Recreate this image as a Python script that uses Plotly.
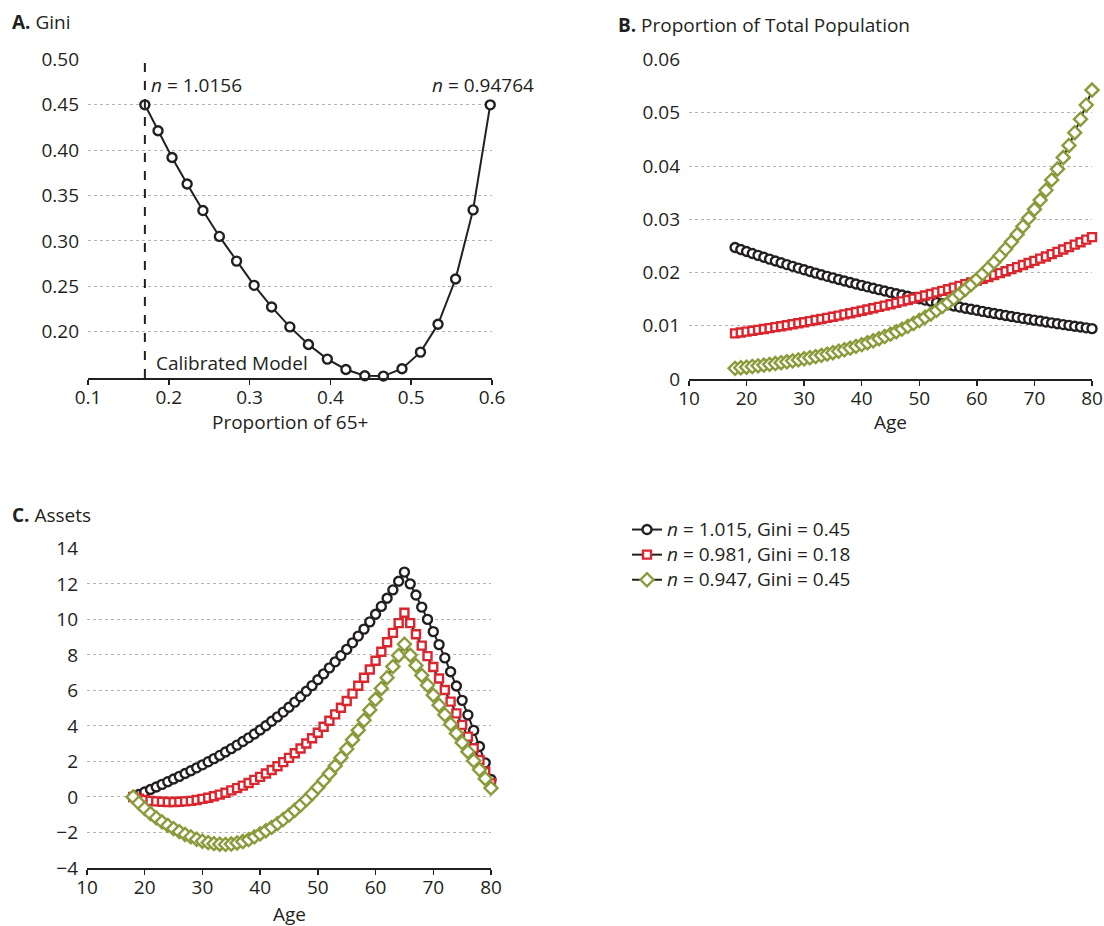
import plotly.graph_objects as go

# ---------------- data ----------------
# Panel A: Gini vs proportion of 65+
PROP65 = [0.1704, 0.1867, 0.2040, 0.2227, 0.2422, 0.2626, 0.2839, 0.3056, 0.3272, 0.3498,
          0.3728, 0.3962, 0.4192, 0.4426, 0.4656, 0.4886, 0.5115, 0.5332, 0.5549, 0.5766, 0.5978]
GINI = [0.450, 0.4214, 0.392, 0.3628, 0.3335, 0.305, 0.2778, 0.2511, 0.2273, 0.2053,
        0.1859, 0.1698, 0.1584, 0.1515, 0.1511, 0.1592, 0.1775, 0.2082, 0.2581, 0.3342, 0.450]
CALIBRATED_X = 0.1704

AGES = list(range(18, 81))

# Panel B: proportion of total population by age
POP_N1015 = [0.02470, 0.02432, 0.02395, 0.02358, 0.02322, 0.02286, 0.02251, 0.02217, 0.02183, 0.02149,
             0.02116, 0.02083, 0.02051, 0.02020, 0.01989, 0.01958, 0.01928, 0.01899, 0.01870, 0.01841,
             0.01813, 0.01785, 0.01758, 0.01731, 0.01704, 0.01678, 0.01652, 0.01627, 0.01602, 0.01577,
             0.01553, 0.01529, 0.01506, 0.01482, 0.01460, 0.01437, 0.01415, 0.01394, 0.01372, 0.01351,
             0.01330, 0.01310, 0.01290, 0.01270, 0.01250, 0.01231, 0.01212, 0.01194, 0.01175, 0.01157,
             0.01139, 0.01122, 0.01105, 0.01088, 0.01071, 0.01055, 0.01038, 0.01022, 0.01007, 0.00991,
             0.00976, 0.00961, 0.00946]
POP_N0981 = [0.00857, 0.00873, 0.00889, 0.00905, 0.00922, 0.00939, 0.00956, 0.00974, 0.00992, 0.01010,
             0.01029, 0.01048, 0.01067, 0.01087, 0.01107, 0.01127, 0.01148, 0.01169, 0.01191, 0.01213,
             0.01236, 0.01258, 0.01282, 0.01305, 0.01329, 0.01354, 0.01379, 0.01404, 0.01430, 0.01457,
             0.01484, 0.01511, 0.01539, 0.01567, 0.01596, 0.01626, 0.01656, 0.01686, 0.01717, 0.01749,
             0.01782, 0.01815, 0.01848, 0.01882, 0.01917, 0.01953, 0.01989, 0.02025, 0.02063, 0.02101,
             0.02140, 0.02179, 0.02219, 0.02260, 0.02302, 0.02345, 0.02388, 0.02432, 0.02477, 0.02523,
             0.02569, 0.02617, 0.02665]
POP_N0947 = [0.00200, 0.00211, 0.00222, 0.00235, 0.00247, 0.00261, 0.00275, 0.00290, 0.00306, 0.00323,
             0.00341, 0.00359, 0.00379, 0.00399, 0.00421, 0.00444, 0.00468, 0.00494, 0.00521, 0.00549,
             0.00580, 0.00612, 0.00645, 0.00680, 0.00717, 0.00757, 0.00798, 0.00842, 0.00888, 0.00936,
             0.00988, 0.01042, 0.01099, 0.01159, 0.01222, 0.01289, 0.01359, 0.01434, 0.01512, 0.01595,
             0.01682, 0.01774, 0.01871, 0.01974, 0.02082, 0.02195, 0.02315, 0.02442, 0.02576, 0.02716,
             0.02865, 0.03022, 0.03187, 0.03361, 0.03545, 0.03739, 0.03943, 0.04159, 0.04386, 0.04626,
             0.04879, 0.05146, 0.05427]

# Panel C: assets by age
ASSETS_N1015 = [0.00, 0.14, 0.28, 0.42, 0.56, 0.71, 0.86, 1.01, 1.16, 1.32,
                1.48, 1.64, 1.81, 1.98, 2.16, 2.34, 2.53, 2.72, 2.92, 3.12,
                3.33, 3.55, 3.77, 4.01, 4.26, 4.51, 4.78, 5.05, 5.34, 5.64,
                5.95, 6.27, 6.60, 6.93, 7.27, 7.61, 7.96, 8.31, 8.68, 9.06,
                9.45, 9.86, 10.29, 10.73, 11.19, 11.66, 12.15, 12.66, 12.00, 11.37,
                10.69, 10.00, 9.31, 8.58, 7.83, 7.05, 6.25, 5.44, 4.62, 3.75,
                2.84, 1.92, 0.98]
ASSETS_N0981 = [0.00, -0.10, -0.17, -0.22, -0.25, -0.27, -0.28, -0.28, -0.27, -0.25,
                -0.22, -0.17, -0.11, -0.04, 0.04, 0.13, 0.24, 0.37, 0.50, 0.64,
                0.79, 0.96, 1.13, 1.32, 1.52, 1.73, 1.96, 2.20, 2.46, 2.73,
                3.01, 3.31, 3.62, 3.95, 4.29, 4.65, 5.02, 5.40, 5.82, 6.26,
                6.71, 7.18, 7.67, 8.18, 8.71, 9.24, 9.79, 10.37, 9.79, 9.16,
                8.52, 7.93, 7.32, 6.67, 6.02, 5.37, 4.71, 4.06, 3.40, 2.74,
                2.08, 1.42, 0.77]
ASSETS_N0947 = [0.00, -0.34, -0.65, -0.93, -1.18, -1.40, -1.60, -1.78, -1.95, -2.11,
                -2.25, -2.38, -2.49, -2.57, -2.63, -2.66, -2.67, -2.65, -2.59, -2.51,
                -2.40, -2.25, -2.08, -1.90, -1.71, -1.50, -1.27, -1.02, -0.75, -0.46,
                -0.15, 0.18, 0.54, 0.92, 1.32, 1.75, 2.21, 2.70, 3.22, 3.76,
                4.32, 4.90, 5.50, 6.11, 6.72, 7.34, 7.97, 8.60, 7.99, 7.41,
                6.85, 6.29, 5.73, 5.17, 4.63, 4.10, 3.58, 3.06, 2.55, 2.04,
                1.54, 1.03, 0.50]

SERIES_NAMES = ["<i>n</i> = 1.015, Gini = 0.45",
                "<i>n</i> = 0.981, Gini = 0.18",
                "<i>n</i> = 0.947, Gini = 0.45"]

for arr in (POP_N1015, POP_N0981, POP_N0947, ASSETS_N1015, ASSETS_N0981, ASSETS_N0947):
    assert len(arr) == len(AGES), len(arr)

# ---------------- style ----------------
W, H = 1104, 926
INK = "#231f20"
RED = "#d9262f"
GREEN = "#8a9b3b"
GRID = "#b4b4b4"
FONT = "Open Sans"
FS = 19

def px(x):
    return x / W

def py(y):
    return 1 - y / H

fig = go.Figure()

# Panel A
fig.add_trace(go.Scatter(
    x=PROP65, y=GINI, mode="lines+markers", xaxis="x", yaxis="y",
    line=dict(color=INK, width=2),
    marker=dict(symbol="circle", size=9, color="white", line=dict(color=INK, width=2.4)),
    showlegend=False, cliponaxis=False, hoverinfo="skip"))

styles = [
    (POP_N1015, ASSETS_N1015, "circle", INK, 9),
    (POP_N0981, ASSETS_N0981, "square", RED, 8),
    (POP_N0947, ASSETS_N0947, "diamond", GREEN, 10),
]
for i, (pop, assets, sym, col, size) in enumerate(styles):
    mk = dict(symbol=sym, size=size, color="white", line=dict(color=col, width=2.4))
    label = f'<span style="font-size:{FS}px">{SERIES_NAMES[i]}</span>'
    fig.add_trace(go.Scatter(
        x=AGES, y=pop, mode="lines+markers", xaxis="x2", yaxis="y2",
        line=dict(color=INK, width=2), marker=mk, name=label,
        legendgroup=f"g{i}", showlegend=False, cliponaxis=False, hoverinfo="skip"))
    fig.add_trace(go.Scatter(
        x=AGES, y=assets, mode="lines+markers", xaxis="x3", yaxis="y3",
        line=dict(color=INK, width=2), marker=mk, name=label,
        legendgroup=f"g{i}", showlegend=True, cliponaxis=False, hoverinfo="skip"))

xcommon = dict(showline=True, linecolor=INK, linewidth=1.5, ticks="outside", ticklen=5,
               tickwidth=1.5, tickcolor=INK, showgrid=False, zeroline=False, automargin=False,
               tickfont=dict(family=FONT, size=FS, color=INK), ticklabelstandoff=-3,
               fixedrange=True)
ycommon = dict(showline=False, ticks="", showgrid=True, gridcolor=GRID, griddash="dot",
               gridwidth=1, zeroline=False, automargin=False,
               tickfont=dict(family=FONT, size=FS, color=INK),
               ticklabelstandoff=8, fixedrange=True)

fig.update_layout(
    width=W, height=H,
    margin=dict(l=0, r=0, t=0, b=0, pad=0, autoexpand=False),
    paper_bgcolor="white", plot_bgcolor="white",
    font=dict(family=FONT, size=FS, color=INK),
    xaxis=dict(**xcommon, domain=[px(88), px(492)], range=[0.1, 0.6],
               tickvals=[0.1, 0.2, 0.3, 0.4, 0.5, 0.6], anchor="y"),
    yaxis=dict(**ycommon, domain=[py(378), py(59)], range=[0.149, 0.5005],
               tickvals=[0.20, 0.25, 0.30, 0.35, 0.40, 0.45, 0.50], tickformat=".2f", anchor="x"),
    xaxis2=dict(**xcommon, domain=[px(689), px(1092)], range=[10, 80],
                tickvals=[10, 20, 30, 40, 50, 60, 70, 80], anchor="y2"),
    yaxis2=dict(**ycommon, domain=[py(379), py(59)], range=[0, 0.0601],
                tickvals=[0, 0.01, 0.02, 0.03, 0.04, 0.05, 0.06], anchor="x2"),
    xaxis3=dict(**xcommon, domain=[px(87), px(491)], range=[10, 80],
                tickvals=[10, 20, 30, 40, 50, 60, 70, 80], anchor="y3"),
    yaxis3=dict(**ycommon, domain=[py(868), py(548)], range=[-4, 14.02],
                tickvals=[-4, -2, 0, 2, 4, 6, 8, 10, 12, 14], anchor="x3"),
    legend=dict(x=px(627), y=py(512), xanchor="left", yanchor="top",
                font=dict(family=FONT, size=17, color=INK), bgcolor="rgba(0,0,0,0)",
                tracegroupgap=0, itemwidth=30),
    showlegend=True,
    hovermode=False,
)

fig.add_shape(type="line", xref="x", yref="y", x0=CALIBRATED_X, x1=CALIBRATED_X,
              y0=0.149, y1=0.5, line=dict(color=INK, width=2, dash="dash"))

texts = [
    ("<b>A.</b> Gini", px(10), py(22), "left"),
    ("<b>B.</b> Proportion of Total Population", px(616), py(25), "left"),
    ("<b>C.</b> Assets", px(10), py(515), "left"),
    ("Proportion of 65+", px(290), py(422), "center"),
    ("Age", px(890), py(422), "center"),
    ("Age", px(289), py(914), "center"),
    ("<i>n</i> = 1.0156", px(149), py(85), "left"),
    ("<i>n</i> = 0.94764", px(536), py(85), "right"),
    ("Calibrated Model", px(154), py(363), "left"),
]
for text, x, y, anchor in texts:
    fig.add_annotation(text=text, x=x, y=y, xref="paper", yref="paper",
                       xanchor=anchor, yanchor="middle", showarrow=False,
                       font=dict(family=FONT, size=FS, color=INK))

fig.write_html("out.html",
               config={"displayModeBar": False, "staticPlot": True},
               post_script="document.body.style.margin='0';document.body.style.overflow='hidden';")
